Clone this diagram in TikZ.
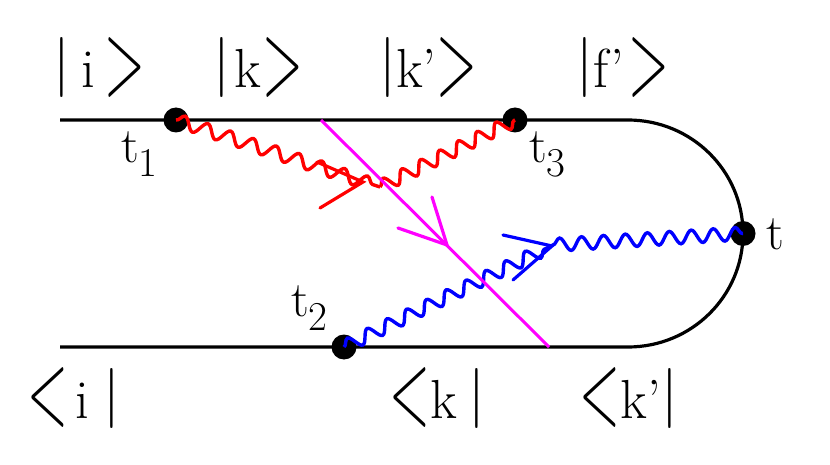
\documentclass[tikz,border=0pt]{standalone}
\usepackage{graphicx}
\usepackage{fontspec}
\usetikzlibrary{decorations.pathmorphing}
\definecolor{pred}{RGB}{255,0,0}
\definecolor{pblue}{RGB}{0,0,255}
\definecolor{pmag}{RGB}{255,0,255}
\newcommand{\kbar}{\raisebox{-10pt}{\resizebox*{!}{60pt}{\raisebox{\depth}{$|$}}}}
\newcommand{\kra}{\raisebox{-10pt}{\resizebox*{40.8pt}{60pt}{\raisebox{\depth}{>}}}}
\newcommand{\kla}{\raisebox{-10pt}{\resizebox*{40.8pt}{60pt}{\raisebox{\depth}{<}}}}
\newcommand{\tsub}[1]{\raisebox{-14pt}{\fontsize{41}{41}\selectfont #1}}
\begin{document}
\begin{tikzpicture}[x=1pt,y=-1pt,
  wire/.style={line width=3.2pt},
  dot/.style={circle,fill=black,inner sep=0pt,minimum size=25pt},
  photon/.style={line width=3.4pt,decorate,decoration={snake,amplitude=6.5pt,segment length=21pt}},
  barb/.style={line width=3.2pt,line cap=round},
  ketlab/.style={inner sep=0pt,anchor=base west,font=\fontsize{55}{60}\selectfont},
  tlab/.style={inner sep=0pt,anchor=base west,font=\fontsize{50}{60}\selectfont}]
\useasboundingbox (0,0) rectangle (830,465);
% worldlines
\coordinate (L1) at (60,120);
\coordinate (R1) at (628,120);
\coordinate (L2) at (60,347);
\draw[wire] (L1) -- (R1) arc[start angle=-90,end angle=90,x radius=115,y radius=113.5] -- (L2);
% vertices
\node[dot] (t1) at (176,120) {};
\node[dot] (t3) at (515,120) {};
\node[dot] (t2) at (344,347) {};
\node[dot] (t) at (743,233.5) {};
% photons
\coordinate (rj) at (380,187);
\coordinate (bj) at (553,245);
\draw[photon,pred,decoration={segment length=24pt}] (t1.center) -- (rj);
\draw[photon,pred] (rj) -- (t3.center);
\draw[photon,pblue,decoration={segment length=22pt}] (t2.center) -- (bj);
\draw[photon,pblue,decoration={segment length=22pt}] (bj) -- (t.center);
% red arrow
\coordinate (ra) at (363,182);
\coordinate (ra1) at (317,162);
\coordinate (ra2) at (320,208);
\draw[barb,pred] (ra1) -- (ra) -- (ra2);
% blue arrow
\coordinate (ba) at (552,246);
\coordinate (ba1) at (503,235);
\coordinate (ba2) at (513,280);
\draw[barb,pblue] (ba1) -- (ba) -- (ba2);
% magenta line
\coordinate (m1) at (321,120);
\coordinate (m2) at (549,347);
\draw[pmag,line width=3pt] (m1) -- (m2);
\coordinate (ma) at (447,245);
\coordinate (ma1) at (432,197);
\coordinate (ma2) at (398,228);
\draw[barb,pmag] (ma1) -- (ma) -- (ma2);
% kets
\node[ketlab] (ki) at (53.15,88) {\kbar\hspace{11.45pt}i\hspace{9pt}\kra};
\node[ketlab] (kk) at (213.15,88) {\kbar\hspace{4.15pt}k\hspace{1.6pt}\kra};
\node[ketlab] (kkp) at (379.15,88) {\kbar k'\kra};
\node[ketlab] (kfp) at (576.15,88) {\kbar\hspace{0.5pt}f'\hspace{5pt}\kra};
% bras
\node[ketlab] (bi) at (27.6,418) {\kla\hspace{6.9pt}i\hspace{14.55pt}\kbar};
\node[ketlab] (bk) at (389.1,418) {\kla k\hspace{11.25pt}\kbar};
\node[ketlab] (bkp) at (579.6,418) {\kla k'\kbar};
% time labels
\node[tlab] (lt1) at (121,163) {t\tsub{1}};
\node[tlab] (lt3) at (529,163) {t\tsub{3}};
\node[tlab] (lt2) at (291,316) {t\tsub{2}};
\node[tlab] (lt) at (766,250) {t};
\end{tikzpicture}
\end{document}
